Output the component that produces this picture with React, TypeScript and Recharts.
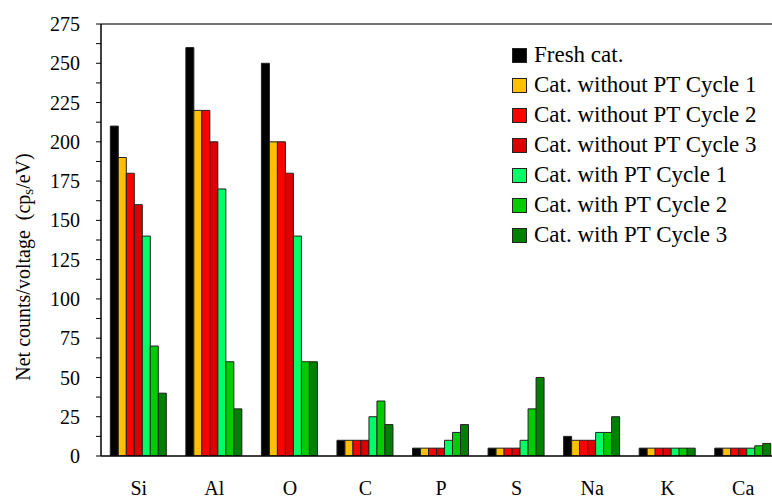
import { BarChart, Bar, XAxis, YAxis, Legend, ReferenceLine, Label } from "recharts"

const categories = ["Si", "Al", "O", "C", "P", "S", "Na", "K", "Ca"]

const fresh = [210, 260, 250, 10, 5, 5, 12.5, 5, 5]
const noPt1 = [190, 220, 200, 10, 5, 5, 10, 5, 5]
const noPt2 = [180, 220, 200, 10, 5, 5, 10, 5, 5]
const noPt3 = [160, 200, 180, 10, 5, 5, 10, 5, 5]
const pt1 = [140, 170, 140, 25, 10, 10, 15, 5, 5]
const pt2 = [70, 60, 60, 35, 15, 30, 15, 5, 6.5]
const pt3 = [40, 30, 60, 20, 20, 50, 25, 5, 8]

const yTicks = [0, 12.5, 25, 37.5, 50, 62.5, 75, 87.5, 100, 112.5, 125, 137.5, 150, 162.5, 175, 187.5, 200, 212.5, 225, 237.5, 250, 262.5, 275]

const series = [
  { key: "fresh", name: "Fresh cat.", color: "#000000", values: fresh },
  { key: "noPt1", name: "Cat. without PT Cycle 1", color: "#FFC000", values: noPt1 },
  { key: "noPt2", name: "Cat. without PT Cycle 2", color: "#FF0000", values: noPt2 },
  { key: "noPt3", name: "Cat. without PT Cycle 3", color: "#DD0000", values: noPt3 },
  { key: "pt1", name: "Cat. with PT Cycle 1", color: "#00FF66", values: pt1 },
  { key: "pt2", name: "Cat. with PT Cycle 2", color: "#00CC00", values: pt2 },
  { key: "pt3", name: "Cat. with PT Cycle 3", color: "#008000", values: pt3 },
]

const data = categories.map((c, i) => {
  const row: Record<string, string | number> = { name: c }
  series.forEach((s) => { row[s.key] = s.values[i] })
  return row
})

const FONT = "'Liberation Serif', 'Times New Roman', serif"

const renderLegend = () => (
  <div style={{ fontFamily: FONT, fontSize: 23, color: "#000" }}>
    {series.map((s) => (
      <div key={s.key} style={{ height: 30, display: "flex", alignItems: "center", whiteSpace: "nowrap" }}>
        <span style={{
          display: "inline-block", width: 13, height: 13, background: s.color,
          border: "1px solid #222", marginRight: 7
        }} />
        <span>{s.name}</span>
      </div>
    ))}
  </div>
)

const YLabel = () => (
  <text x={30} y={267} transform="rotate(-90, 30, 267)" textAnchor="middle"
    fontFamily={FONT} fontSize={20} fill="#000">
    {"Net counts/voltage\u00a0 (cp"}<tspan fontSize={15} dy={3}>s</tspan><tspan dy={-3}>/eV)</tspan>
  </text>
)

export default function App() {
  return (
    <div style={{ position: "absolute", left: 0, top: 0, width: 772, height: 498, overflow: "hidden", background: "#fff" }}>
      <BarChart width={790} height={498} data={data}
        margin={{ top: 24, right: 9, bottom: 0, left: 0 }}
        barCategoryGap={9.3} barGap={0}>
        <XAxis dataKey="name" height={42} tickLine={false} tickSize={0} tickMargin={25}
          axisLine={{ stroke: "#000", strokeWidth: 1.5 }}
          tick={{ fontFamily: FONT, fontSize: 20, fill: "#000" }} />
        <YAxis width={101} domain={[0, 275]} ticks={yTicks} interval={0} type="number"
          allowDataOverflow tickSize={5} tickMargin={16}
          tickFormatter={(v: number) => (v % 25 === 0 ? String(v) : "")}
          axisLine={{ stroke: "#000", strokeWidth: 1.5 }}
          tickLine={{ stroke: "#000" }}
          tick={{ fontFamily: FONT, fontSize: 20, fill: "#000" }}>
          <Label content={<YLabel />} />
        </YAxis>
        <ReferenceLine y={275} stroke="#444" strokeWidth={1.5} />
        {series.map((s) => (
          <Bar key={s.key} dataKey={s.key} name={s.name} fill={s.color}
            stroke="#222" strokeWidth={1} isAnimationActive={false} />
        ))}
        <Legend content={renderLegend} layout="vertical" align="center" verticalAlign="middle"
          wrapperStyle={{ position: "absolute", left: 512, top: 40, width: 260, height: 210 }} />
      </BarChart>
    </div>
  )
}
